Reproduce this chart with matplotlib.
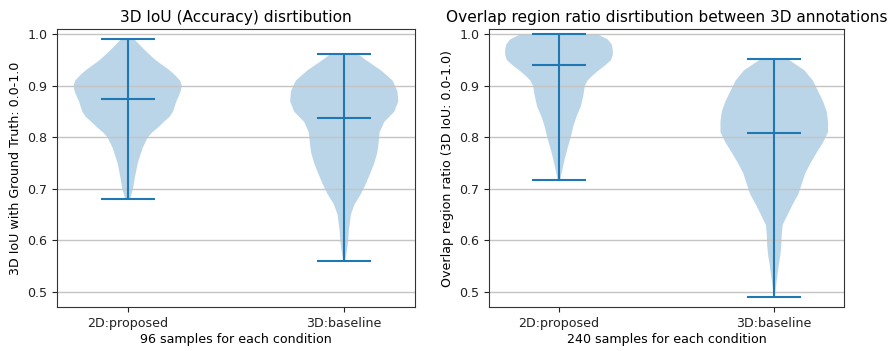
import numpy as np
import matplotlib
matplotlib.use("Agg")
import matplotlib.pyplot as plt

categories = ["2D:proposed", "3D:baseline"]

# ---- left panel: 3D IoU (density profiles) ----
l1_y = [0.68, 0.70, 0.72, 0.75, 0.78, 0.80, 0.81, 0.82, 0.83, 0.84, 0.85, 0.86, 0.87, 0.88, 0.89, 0.90, 0.91, 0.92, 0.93, 0.94, 0.95, 0.96, 0.97, 0.98, 0.99]
l1_w = [7, 16, 21, 30, 45, 60, 74, 92, 108, 125, 135, 140, 145, 152, 158, 161, 156, 142, 125, 104, 83, 66, 50, 35, 20]
l2_y = [0.56, 0.58, 0.60, 0.62, 0.65, 0.67, 0.69, 0.71, 0.73, 0.75, 0.77, 0.79, 0.81, 0.83, 0.85, 0.87, 0.89, 0.91, 0.93, 0.95, 0.962]
l2_w = [3, 8, 12, 14, 20, 31, 50, 65, 78, 90, 99, 103, 106, 120, 150, 162, 159, 145, 110, 65, 40]
left_means = [0.875, 0.838]

# ---- right panel: overlap region ratio ----
r1_y = [0.718, 0.74, 0.76, 0.78, 0.80, 0.82, 0.84, 0.86, 0.88, 0.90, 0.91, 0.92, 0.93, 0.94, 0.95, 0.96, 0.97, 0.98, 0.99, 1.00]
r1_w = [4, 11, 18, 26, 35, 42, 52, 65, 72, 77, 85, 100, 118, 138, 155, 160, 160, 157, 145, 115]
r2_y = [0.49, 0.51, 0.53, 0.55, 0.57, 0.59, 0.61, 0.63, 0.65, 0.67, 0.69, 0.71, 0.73, 0.75, 0.77, 0.79, 0.81, 0.83, 0.85, 0.87, 0.89, 0.91, 0.93, 0.952]
r2_w = [2, 5, 9, 13, 18, 21, 22, 25, 40, 55, 72, 82, 92, 108, 126, 145, 160, 160, 156, 145, 130, 115, 90, 40]
right_means = [0.940, 0.808]

yticks = [0.5, 0.6, 0.7, 0.8, 0.9, 1.0]


def stats(ys, ws, mean):
    ys = np.asarray(ys, float)
    ws = np.asarray(ws, float)
    return dict(coords=ys, vals=ws, mean=mean, median=mean,
                min=ys.min(), max=ys.max())


fig = plt.figure(figsize=(8.88, 3.51), dpi=100)
ax1 = fig.add_axes([0.0645, 0.1245, 0.4024, 0.7925])
ax2 = fig.add_axes([0.5507, 0.1245, 0.4000, 0.7925])

panels = [
    (ax1, [stats(l1_y, l1_w, left_means[0]), stats(l2_y, l2_w, left_means[1])],
     "3D IoU (Accuracy) disrtibution", "3D IoU with Ground Truth: 0.0-1.0",
     "96 samples for each condition"),
    (ax2, [stats(r1_y, r1_w, right_means[0]), stats(r2_y, r2_w, right_means[1])],
     "Overlap region ratio disrtibution between 3D annotations",
     "Overlap region ratio (3D IoU: 0.0-1.0)",
     "240 samples for each condition"),
]

for ax, vps, title, ylab, xlab in panels:
    ax.violin(vps, positions=[1, 2], widths=0.5, showmeans=True, showextrema=True)
    ax.set_ylim(0.47, 1.01)
    ax.set_yticks(yticks)
    ax.set_xticks([1, 2])
    ax.set_xticklabels(categories)
    ax.yaxis.grid(True, color="#c4c4c4", linewidth=1.0)
    ax.set_title(title, fontsize=11.1, pad=5)
    ax.set_ylabel(ylab, fontsize=9.1, labelpad=4)
    ax.set_xlabel(xlab, fontsize=9.1, labelpad=2)
    ax.tick_params(labelsize=9.1, colors="#222222")
    for s in ax.spines.values():
        s.set_color("#333333")

fig.savefig("out.png", dpi=100)
